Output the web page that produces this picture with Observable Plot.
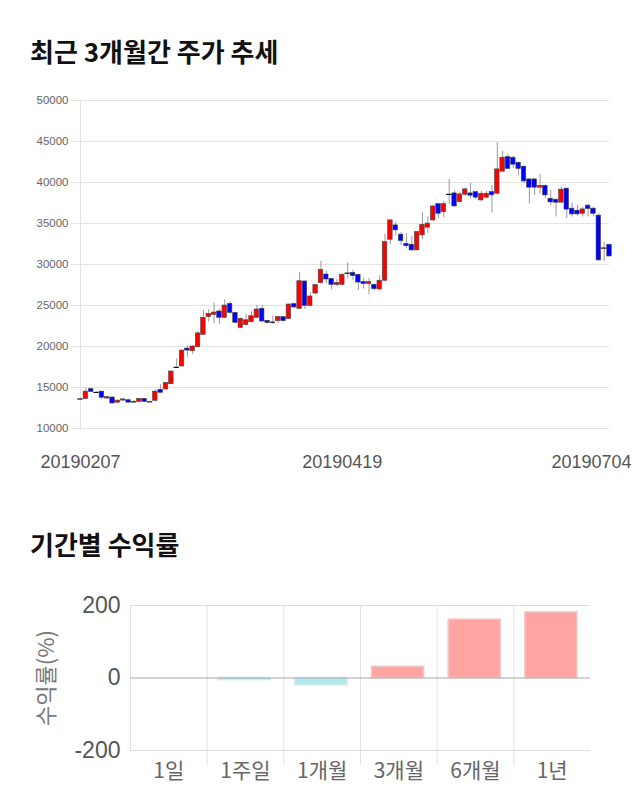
<!DOCTYPE html>
<html><head><meta charset="utf-8">
<script src="https://cdn.jsdelivr.net/npm/d3@7"></script>
<script src="https://cdn.jsdelivr.net/npm/@observablehq/plot@0.6"></script>
<style>
body{margin:0;background:#fff;width:640px;height:810px;position:relative;overflow:hidden;font-family:"Noto Sans CJK KR",sans-serif}
.title{position:absolute;left:30px;font-size:26px;font-weight:700;color:#111;line-height:1;white-space:nowrap}
#t1{top:38px}
#t2{top:531px}
#c1{position:absolute;left:0;top:90px}
#c2{position:absolute;left:0;top:590px}
</style></head><body>
<div class="title" id="t1">최근 3개월간 주가 추세</div>
<div id="c1"></div>
<div class="title" id="t2">기간별 수익률</div>
<div id="c2"></div>
<script>
// ---- Chart 1: daily candles ----
const opens = [
13600,13600,14800,14400,14500,13650,13780,13150,13400,13450,
13250,13250,13600,13250,13380,14720,14760,15400,17450,17560,
19750,19420,19910,21420,23580,23860,24270,23500,25200,24100,
22270,22630,22960,23500,24600,23130,22960,23090,23580,23330,
25160,24600,27930,24960,26460,27720,28780,28250,27520,27520,
28940,28980,28740,27870,27620,27530,26960,28020,33020,34770,
33640,32520,32410,31720,33550,34490,35380,37360,36380,38550,
38670,37610,38510,38670,38830,37820,38150,38830,38630,41320,
43100,43020,42410,41930,40380,40380,39370,39600,38020,37900,
37540,39250,36810,36560,36190,37180,36810,35960,32000,32410];
const closes = [
13600,14500,14450,14400,13750,13850,13050,13400,13550,13150,
13250,13600,13250,13250,14500,14350,15530,16950,17450,19500,
19500,20000,21600,23500,23990,24140,23500,25000,24100,22890,
23370,23200,23690,24510,23050,22890,22960,23580,23090,25120,
24760,27960,24960,26100,27480,29350,28170,27520,27760,28740,
28940,28580,27800,27620,27870,26990,28020,32730,35380,34160,
32850,32240,31720,33950,34840,34990,37080,36190,37360,38550,
37080,38550,39160,38390,38150,38630,38630,38430,41600,43020,
41640,42170,41640,40130,39370,39370,39580,38430,37570,37540,
39130,36690,36110,36110,36720,36760,36190,30500,32000,30980];
const highs = [
13650,14850,14900,14450,14500,13900,13800,13500,13650,13500,
13400,13650,13650,13300,14700,15350,15600,17000,18500,19600,
20100,20100,21800,24400,24500,25300,24500,25700,25400,24100,
23500,23900,24200,25000,25000,23200,23700,23700,23600,25200,
25300,29000,28000,26600,27600,30400,29200,28300,28200,28900,
30200,29300,28800,28300,28300,27600,28600,33700,35400,35200,
33900,33750,33400,33950,36300,35800,37200,37400,37700,40400,
39000,38800,39300,39900,38900,38900,38900,39650,44850,43800,
43500,43200,42500,41950,40400,40400,41000,39700,39040,38000,
39370,39300,37490,37200,37000,37300,37000,36200,32730,32450];
const lows = [
13550,13600,14400,14350,13500,13600,13000,13000,13350,13100,
13050,13200,13200,13200,13250,14300,14700,15350,17300,17500,
18700,19000,19850,21400,22970,22800,22700,23400,23900,22800,
22200,22500,22900,23400,22900,22700,22700,22800,23000,23300,
24600,24500,24500,24900,26300,27600,27600,26900,27300,27400,
28300,28000,26840,27000,26300,26800,26800,27900,32400,33500,
32300,31900,31600,31700,33000,33800,35200,35600,35700,37300,
37000,37500,38300,38000,37900,37600,38000,36270,38500,41300,
41600,41700,40800,39900,37400,38400,38600,38000,37200,35800,
37500,35580,35780,35900,35800,35800,35800,30400,30370,30900];
const priceTicks = [10000,15000,20000,25000,30000,35000,40000,45000,50000];
const dateLabels = ["20190207","20190419","20190704"];
const dateLabelIndex = [0,49,99];

// ---- Chart 2: period returns ----
const periods = ["1일","1주일","1개월","3개월","6개월","1년"];
const returns = [0,-6,-20,31,161,181];
const returnTicks = [-200,0,200];

const candles = opens.map((o,i)=>({i, open:o, close:closes[i], high:highs[i], low:lows[i]}));
const bodies = candles.filter(d=>d.open!==d.close);
const dojis = candles.filter(d=>d.open===d.close);
const halfW = 0.42;
const numFont = "'Liberation Sans', Arial, sans-serif";
const krFont = "'Noto Sans CJK KR', sans-serif";

const c1 = Plot.plot({
  width:640, height:390,
  marginLeft:80, marginRight:31, marginTop:10, marginBottom:52,
  style:{background:"transparent", overflow:"visible"},
  x:{domain:[0, candles.length-1], axis:null},
  y:{domain:[10000,50000], axis:null},
  marks:[
    Plot.gridY(priceTicks, {stroke:"#e3e3e3", strokeOpacity:1}),
    Plot.axisY(priceTicks, {tickSize:9, tickPadding:3, stroke:"#e3e3e3", fill:"#666", fontSize:11.5, fontFamily:numFont, tickFormat:d=>String(d), label:null}),
    Plot.ruleX([candles[0].i], {stroke:"#e3e3e3"}),
    Plot.ruleX(candles, {x:"i", y1:"low", y2:"high", stroke:"#9a9a9a", strokeWidth:1}),
    Plot.rect(bodies, {x1:d=>d.i-halfW, x2:d=>d.i+halfW, y1:"open", y2:"close",
      fill:d=>d.close>d.open?"#ff0000":"#0000ff", stroke:"#444", strokeWidth:0.6}),
    Plot.ruleY(dojis, {y:"open", x1:d=>d.i-0.5, x2:d=>d.i+0.5, stroke:"#111", strokeWidth:1.2}),
    Plot.text(dateLabels.slice(0,2), {x:(d,k)=>dateLabelIndex[k], frameAnchor:"bottom", dy:34, text:d=>d, fontSize:18, fill:"#555", fontFamily:numFont, textAnchor:"middle", lineAnchor:"middle"}),
    Plot.text(dateLabels.slice(2), {x:(d,k)=>dateLabelIndex[k+2], frameAnchor:"bottom", dy:34, dx:22, text:d=>d, fontSize:18, fill:"#555", fontFamily:numFont, textAnchor:"end", lineAnchor:"middle"})
  ]
});
document.getElementById("c1").appendChild(c1);

const rets = periods.map((p,i)=>({p, i, v:returns[i]}));
const c2 = Plot.plot({
  width:640, height:200,
  marginLeft:130, marginRight:50, marginTop:15, marginBottom:40,
  style:{background:"transparent", overflow:"visible"},
  x:{domain:[0, periods.length], axis:null},
  y:{domain:[-200,200], axis:null},
  marks:[
    Plot.ruleY(returnTicks.filter(v=>v!==0), {stroke:"#dcdcdc"}),
    Plot.ruleX(d3.range(periods.length), {y1:-200, y2:200, stroke:"#e3e3e3"}),
    Plot.axisX(d3.range(1, periods.length), {tickSize:15, stroke:"#e3e3e3", tickFormat:()=>"", label:null}),
    Plot.rect(rets.filter(d=>d.v!==0), {x1:d=>d.i+0.15, x2:d=>d.i+0.83, y1:0, y2:"v",
      fill:d=>d.v>0?"#ffa3a3":"#b0e9f1", stroke:d=>d.v>0?"#f0c8c8":"#cde9ee", strokeWidth:1.5}),
    Plot.ruleY([0], {stroke:"#a8a8a8"}),
    Plot.axisY(returnTicks, {tickSize:0, tickPadding:10, fill:"#555", fontSize:23, fontFamily:numFont, tickFormat:d=>String(d), label:null}),
    Plot.axisX(rets.map(d=>d.i+0.5), {tickSize:0, tickPadding:13, fill:"#666", fontSize:21, fontFamily:krFont, tickFormat:v=>periods[Math.round(v-0.5)], label:null}),
    Plot.text(["수익률(%)"], {frameAnchor:"left", dx:-84, rotate:-90, fontSize:22, fill:"#777", fontFamily:krFont, textAnchor:"middle"})
  ]
});
document.getElementById("c2").appendChild(c2);
</script>
</body></html>
